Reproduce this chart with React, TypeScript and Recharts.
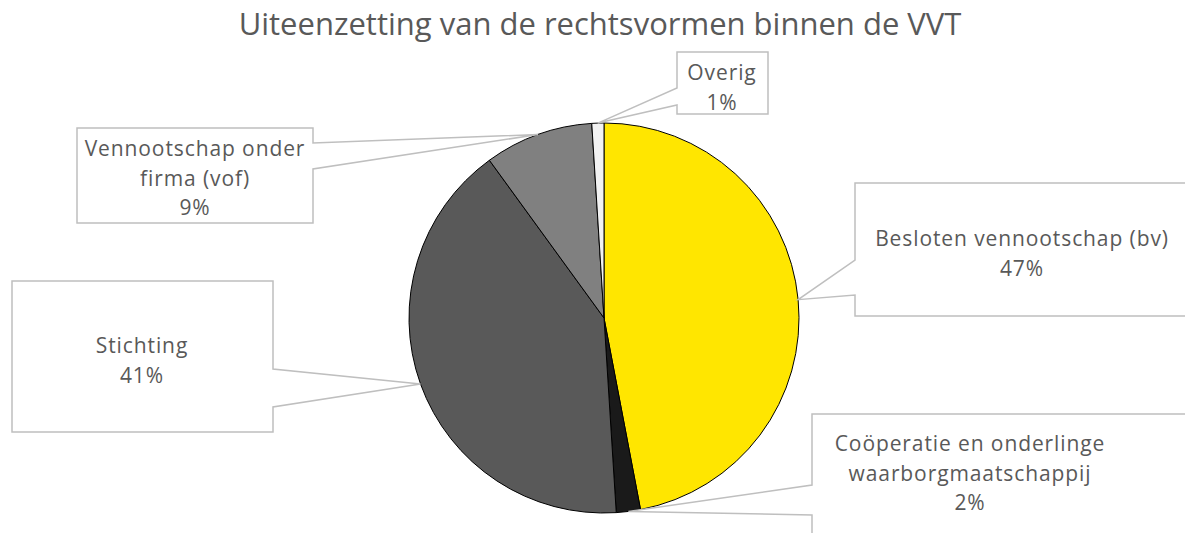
import { PieChart, Pie, Cell } from 'recharts';

const NAMES = [
  'Besloten vennootschap (bv)',
  'Coöperatie en onderlinge waarborgmaatschappij',
  'Stichting',
  'Vennootschap onder firma (vof)',
  'Overig',
];
const VALUES = [47, 2, 41, 9, 1];
const LABEL_LINES = [
  ['Besloten vennootschap (bv)'],
  ['Coöperatie en onderlinge', 'waarborgmaatschappij'],
  ['Stichting'],
  ['Vennootschap onder', 'firma (vof)'],
  ['Overig'],
];

const COLORS = ['#FFE600', '#1A1A1A', '#595959', '#808080', '#F2F2F2'];

const data = NAMES.map((name, i) => ({ name, value: VALUES[i] }));

// callout box layout per slice (x, y, w, h, pointer edge, pointer y1/y2, text centre)
const BOXES = [
  { x: 855, y: 183, w: 345, h: 133, side: 'left', p1: 260, p2: 295, tx: 1022, ty: 238 },
  { x: 812, y: 414, w: 400, h: 140, side: 'left', p1: 485, p2: 515, tx: 970, ty: 443 },
  { x: 12, y: 281, w: 261, h: 151, side: 'right', p1: 369, p2: 407, tx: 142, ty: 345 },
  { x: 77, y: 128, w: 236, h: 95, side: 'right', p1: 143, p2: 169, tx: 195, ty: 148 },
  { x: 677, y: 52, w: 91, h: 62, side: 'left', p1: 88, p2: 105, tx: 722, ty: 72 },
];

const RAD = Math.PI / 180;
const LINE_H = 29.5;

const renderLabel = (props: any) => {
  const { cx, cy, midAngle, outerRadius, index } = props;
  const b = BOXES[index];
  const tipX = cx + outerRadius * Math.cos(-midAngle * RAD);
  const tipY = cy + outerRadius * Math.sin(-midAngle * RAD);
  const r = b.x + b.w;
  const bot = b.y + b.h;
  let d: string;
  if (b.side === 'left') {
    d = `M${b.x},${b.y} L${r},${b.y} L${r},${bot} L${b.x},${bot} L${b.x},${b.p2} L${tipX},${tipY} L${b.x},${b.p1} Z`;
  } else {
    d = `M${b.x},${b.y} L${r},${b.y} L${r},${b.p1} L${tipX},${tipY} L${r},${b.p2} L${r},${bot} L${b.x},${bot} Z`;
  }
  const lines = [...LABEL_LINES[index], `${VALUES[index]}%`];
  return (
    <g key={`lbl-${index}`}>
      <path d={d} fill="#FFFFFF" stroke="#BFBFBF" strokeWidth={1.5} />
      <text
        x={b.tx}
        y={b.ty}
        textAnchor="middle"
        dominantBaseline="central"
        fill="#595959"
        fontSize={21}
        letterSpacing={0.9}
        fontFamily="'Open Sans', sans-serif"
      >
        {lines.map((l, i) => (
          <tspan key={i} x={b.tx} dy={i === 0 ? 0 : LINE_H}>
            {l}
          </tspan>
        ))}
      </text>
    </g>
  );
};

export default function App() {
  return (
    <div style={{ position: 'absolute', left: 0, top: 0, width: 1185, height: 533, background: '#fff', overflow: 'hidden' }}>
      <div
        style={{
          position: 'absolute',
          left: 0,
          top: 2,
          width: 1200,
          textAlign: 'center',
          fontFamily: "'Open Sans', sans-serif",
          fontWeight: 400,
          fontSize: 31,
          color: '#595959',
          lineHeight: '42px',
        }}
      >
        Uiteenzetting van de rechtsvormen binnen de VVT
      </div>
      <PieChart
        width={1185}
        height={533}
        margin={{ top: 0, right: 0, bottom: 0, left: 0 }}
        style={{ position: 'absolute', left: 0, top: 0 }}
      >
        <Pie
          data={data}
          dataKey="value"
          nameKey="name"
          cx={604}
          cy={318}
          outerRadius={195}
          startAngle={90}
          endAngle={-270}
          stroke="#000000"
          strokeWidth={1}
          label={renderLabel}
          labelLine={false}
          isAnimationActive={false}
        >
          {data.map((entry, i) => (
            <Cell key={`cell-${i}`} fill={COLORS[i]} />
          ))}
        </Pie>
      </PieChart>
    </div>
  );
}
